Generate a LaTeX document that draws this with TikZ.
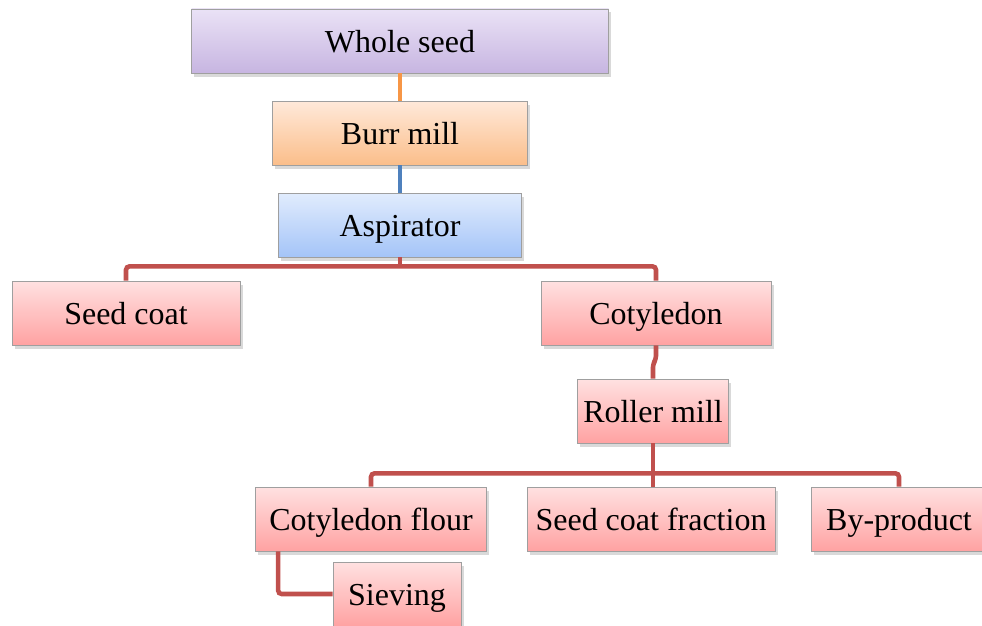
\documentclass[tikz,border=0pt]{standalone}
\usepackage{fontspec}
\setmainfont{Liberation Serif}
\usetikzlibrary{calc,shadows}

\definecolor{wsTop}{HTML}{EAE2F6}
\definecolor{wsBot}{HTML}{C7B5E1}
\definecolor{bmTop}{HTML}{FFE9DA}
\definecolor{bmBot}{HTML}{FBBE8A}
\definecolor{asTop}{HTML}{E1ECFD}
\definecolor{asBot}{HTML}{A4C4F8}
\definecolor{rdTop}{HTML}{FFE1E1}
\definecolor{rdBot}{HTML}{FFA2A2}
\definecolor{orLine}{HTML}{F79646}
\definecolor{blLine}{HTML}{4F81BD}
\definecolor{rdLine}{HTML}{C0504D}

\begin{document}
\begin{tikzpicture}[node distance=1.84cm,
    box/.style={rectangle, draw=gray!75, minimum height=1.28cm, font=\fontsize{18.2}{20}\selectfont,
      text height=16.5pt, text depth=3pt,
      drop shadow={shadow xshift=0.05cm, shadow yshift=-0.07cm, opacity=0.3}},
    purplebox/.style={box, top color=wsTop, bottom color=wsBot},
    orangebox/.style={box, top color=bmTop, bottom color=bmBot},
    bluebox/.style={box, top color=asTop, bottom color=asBot},
    redbox/.style={box, top color=rdTop, bottom color=rdBot},
    link/.style={line width=2.6pt, rounded corners=2pt}]

    \useasboundingbox (0,0) rectangle (19.64,-12.5);

    % Nodes
    \node[purplebox, minimum width=8.34cm] (ws) at (8,-0.82) {Whole seed};
    \node[orangebox, minimum width=5.1cm, below of=ws] (bm) {Burr mill};
    \node[bluebox, minimum width=4.86cm, below of=bm] (as) {Aspirator};

    \node[redbox, minimum width=4.56cm, below of=as, node distance=1.76cm, xshift=-5.48cm] (sc) {Seed coat};
    \node[redbox, minimum width=4.6cm, below of=as, node distance=1.76cm, xshift=5.12cm] (co) {Cotyledon};
    \node[redbox, minimum width=3.02cm, below of=co, node distance=1.96cm, xshift=-0.06cm] (rm) {Roller mill};

    \node[redbox, minimum width=4.62cm, below of=rm, node distance=2.16cm, xshift=-5.64cm] (cf) {Cotyledon flour};
    \node[redbox, minimum width=4.96cm, below of=rm, node distance=2.16cm, xshift=-0.04cm] (sf) {Seed coat fraction};
    \node[redbox, minimum width=3.52cm, below of=rm, node distance=2.16cm, xshift=4.92cm] (bp) {By-product};
    \node[redbox, minimum width=2.56cm, below of=cf, node distance=1.5cm, xshift=0.52cm] (sv) {Sieving};

    % Junctions
    \coordinate (asj) at ($(as.south)+(0,-0.18)$);
    \coordinate (rmj) at ($(rm.south)+(0,-0.6)$);

    % Edges
    \draw[link, orLine] (ws.south) -- (bm.north);
    \draw[link, blLine] (bm.south) -- (as.north);
    \draw[link, rdLine] (as.south) -- (asj);
    \draw[link, rdLine] (sc.north) |- (asj) -| (co.north);
    \draw[link, rdLine] (co.south) -- ++(0,-0.28) -- ($(rm.north)+(0,0.3)$) -- (rm.north);
    \draw[link, rdLine] (rm.south) -- (rmj);
    \draw[link, rdLine] (cf.north) |- (rmj) -| (bp.north);
    \draw[link, rdLine] (rmj) -- (rmj |- sf.north);
    \draw[link, rdLine] ($(cf.south west)+(0.46,0)$) |- (sv.west);

\end{tikzpicture}
\end{document}
